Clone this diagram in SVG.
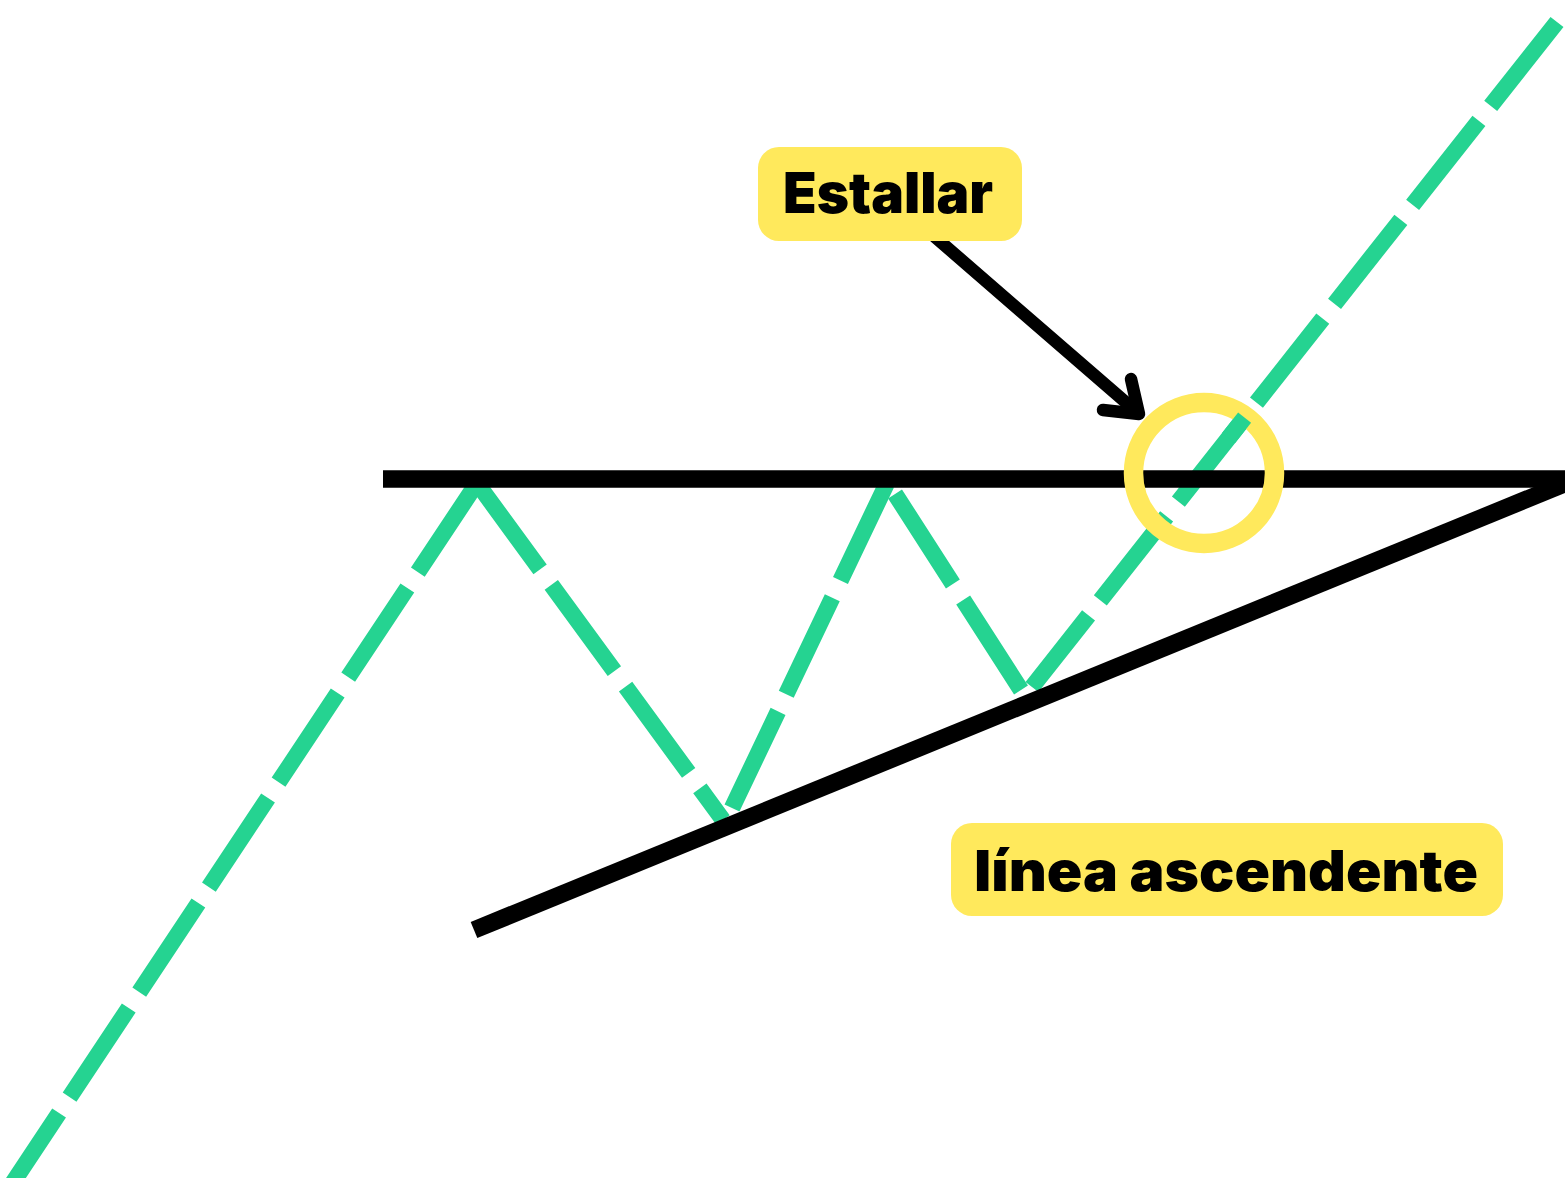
<svg xmlns="http://www.w3.org/2000/svg" width="1565" height="1178" viewBox="0 0 1565 1178">
  <style>
    .trend { fill: none; stroke: #25D391; stroke-width: 16.5; stroke-dasharray: 107 19; stroke-linecap: butt; }
    .solid { fill: none; stroke: #000; stroke-width: 17.5; stroke-linecap: butt; }
    .arrow { fill: none; stroke: #000; stroke-width: 12.5; stroke-linecap: round; stroke-linejoin: round; }
    .label-box { fill: #FFE95C; }
    .label-text { font-family: Inter, "Noto Sans", "Liberation Sans", sans-serif; font-weight: 900; font-size: 56px; fill: #000; }
  </style>
  <rect width="1565" height="1178" fill="#fff"/>
  <g id="connectors">
    <g id="price-path">
      <path class="trend" d="M477,483 L10,1187"/>
      <path class="trend" d="M477,483 L723,820"/>
      <path class="trend" d="M732,808 L887,483"/>
      <path class="trend" d="M1021,690 L888,483"/>
      <path class="trend" d="M1557,22 L1032,687"/>
    </g>
    <line id="resistance" class="solid" x1="383" y1="479" x2="1565" y2="479"/>
    <line id="support" class="solid" x1="474" y1="930" x2="1564" y2="484"/>
    <circle id="breakout-ring" cx="1204" cy="473" r="70.5" fill="none" stroke="#FFE95C" stroke-width="19.5"/>
    <path fill="none" stroke="#25D391" stroke-width="16.5" d="M1244.6,417.7 L1228.5,438.1"/>
    <g id="arrow-estallar">
      <line class="arrow" x1="935" y1="237" x2="1137" y2="412"/>
      <polyline class="arrow" points="1131,379 1139,414 1103,410"/>
    </g>
  </g>
  <g id="node-estallar">
    <rect class="label-box" x="758" y="147" width="264" height="94" rx="21"/>
    <text class="label-text" x="783" y="213" textLength="210" lengthAdjust="spacingAndGlyphs">Estallar</text>
  </g>
  <g id="node-linea-ascendente">
    <rect class="label-box" x="951" y="823" width="552" height="93" rx="21"/>
    <text class="label-text" x="974" y="891" textLength="504" lengthAdjust="spacingAndGlyphs">línea ascendente</text>
  </g>
</svg>
